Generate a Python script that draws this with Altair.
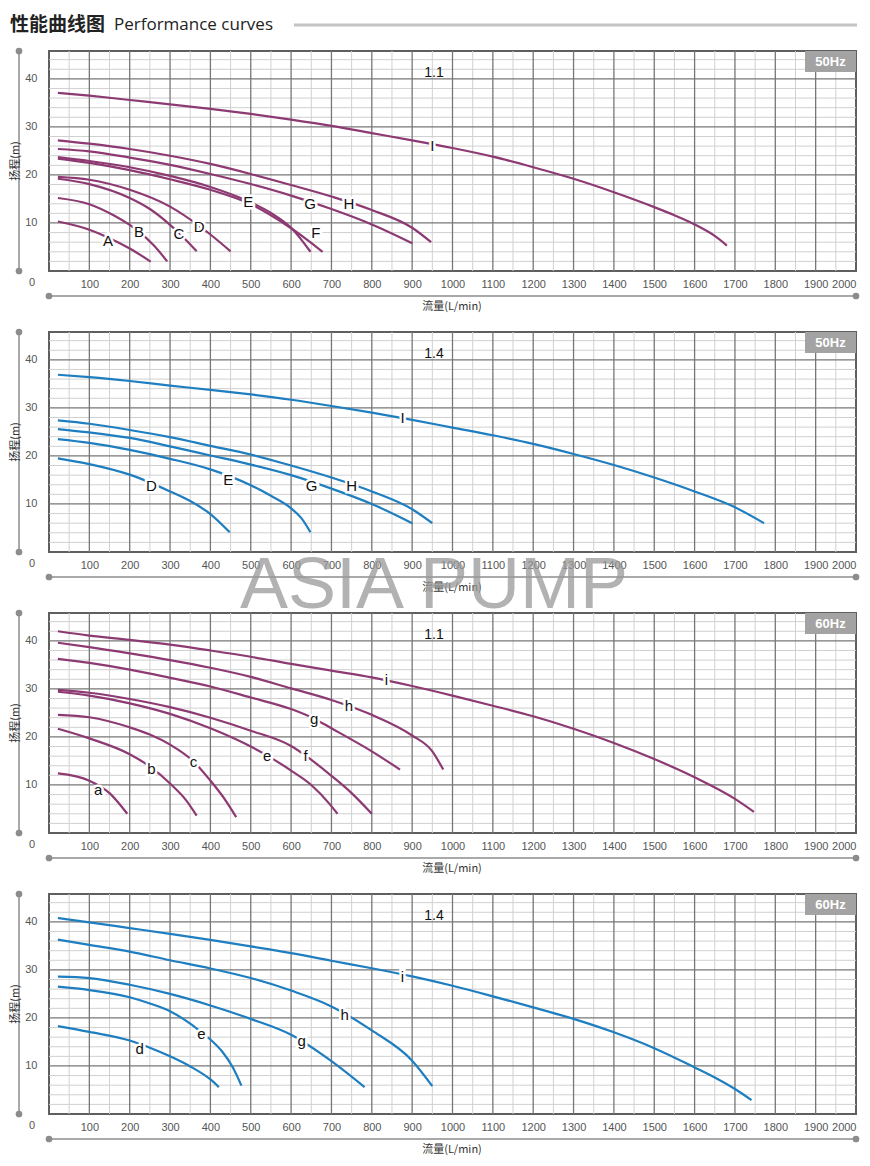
import altair as alt
import pandas as pd

# ---------------- axis values ----------------
X_TICKS = list(range(100, 2001, 100))
Y_TICKS = [10, 20, 30, 40]
X_MINOR = list(range(50, 2000, 100))
Y_MINOR = [v for v in range(2, 46, 2) if v % 10 != 0]
X_MAJOR = list(range(100, 2000, 100))
Y_MAJOR = [10, 20, 30, 40]

# ---------------- panel 1 : 50Hz, 1.1 ----------------
p1_A_q = [22, 100, 146, 200, 252]
p1_A_h = [10.3, 8.6, 7.0, 4.7, 1.95]
p1_B_q = [22, 100, 160, 200, 223, 260, 293]
p1_B_h = [15.2, 13.9, 11.6, 9.6, 8.2, 5.3, 2.0]
p1_C_q = [22, 100, 200, 250, 300, 322, 366]
p1_C_h = [19.2, 18.1, 15.2, 12.9, 9.6, 7.9, 4.1]
p1_D_q = [22, 100, 200, 300, 372, 400, 450]
p1_D_h = [19.6, 19.0, 16.9, 13.4, 9.4, 7.6, 4.1]
p1_E_q = [22, 100, 200, 300, 400, 500, 550, 600, 648]
p1_E_h = [23.7, 22.9, 21.6, 19.8, 17.5, 14.3, 12.1, 9.0, 4.0]
p1_F_q = [22, 100, 200, 300, 400, 500, 550, 600, 640, 678]
p1_F_h = [23.4, 22.5, 21.0, 19.1, 16.9, 13.9, 11.6, 8.9, 6.5, 4.0]
p1_G_q = [22, 100, 200, 300, 400, 500, 600, 700, 800, 900]
p1_G_h = [25.4, 24.9, 23.6, 22.1, 20.2, 18.1, 15.7, 12.9, 9.7, 5.8]
p1_H_q = [22, 100, 200, 300, 400, 500, 600, 700, 800, 900, 947]
p1_H_h = [27.2, 26.5, 25.4, 24.0, 22.3, 20.2, 17.9, 15.5, 12.7, 9.0, 6.0]
p1_I_q = [22, 100, 200, 300, 400, 500, 600, 700, 800, 900, 1000, 1100, 1200, 1300, 1400, 1500, 1550, 1600, 1650, 1680]
p1_I_h = [37.1, 36.5, 35.6, 34.7, 33.75, 32.7, 31.5, 30.2, 28.7, 27.2, 25.6, 23.8, 21.6, 19.2, 16.4, 13.3, 11.6, 9.7, 7.3, 5.3]
p1_lab_t = ["A", "B", "C", "D", "E", "F", "G", "H", "I"]
p1_lab_q = [146, 223, 322, 372, 494, 661, 647, 743, 950]
p1_lab_h = [6.3, 8.2, 7.6, 9.2, 14.4, 7.9, 14.0, 14.0, 26.1]

# ---------------- panel 2 : 50Hz, 1.4 ----------------
p2_D_q = [22, 100, 200, 300, 350, 400, 448]
p2_D_h = [19.5, 18.3, 16.1, 12.6, 10.6, 7.9, 4.1]
p2_E_q = [22, 100, 200, 300, 400, 500, 550, 600, 625, 648]
p2_E_h = [23.5, 22.7, 21.25, 19.4, 17.2, 13.9, 11.7, 9.1, 7.1, 4.1]
p2_G_q = [22, 100, 200, 300, 400, 500, 600, 700, 800, 900]
p2_G_h = [25.6, 24.9, 23.75, 22.0, 20.1, 18.2, 16.0, 13.2, 10.0, 6.0]
p2_H_q = [22, 100, 200, 300, 400, 500, 600, 700, 800, 900, 950]
p2_H_h = [27.4, 26.7, 25.4, 23.9, 22.1, 20.3, 18.0, 15.5, 12.6, 8.9, 6.0]
p2_I_q = [22, 100, 200, 300, 400, 500, 600, 700, 800, 900, 1000, 1100, 1200, 1300, 1400, 1500, 1600, 1700, 1772]
p2_I_h = [36.9, 36.4, 35.6, 34.65, 33.75, 32.8, 31.7, 30.4, 29.0, 27.5, 25.9, 24.3, 22.5, 20.4, 18.1, 15.5, 12.6, 9.3, 6.0]
p2_lab_t = ["D", "E", "G", "H", "I"]
p2_lab_q = [254, 444, 651, 750, 876]
p2_lab_h = [13.8, 14.9, 13.8, 13.8, 27.9]

# ---------------- panel 3 : 60Hz, 1.1 ----------------
p3_a_q = [22, 100, 150, 194]
p3_a_h = [12.4, 10.9, 8.3, 4.0]
p3_b_q = [22, 100, 200, 254, 300, 340, 366]
p3_b_h = [21.7, 19.7, 16.4, 13.6, 10.3, 6.8, 3.6]
p3_c_q = [22, 100, 200, 250, 300, 358, 400, 440, 464]
p3_c_h = [24.6, 24.1, 22.0, 20.5, 18.4, 14.9, 10.9, 6.5, 3.3]
p3_e_q = [22, 100, 200, 300, 400, 500, 541, 600, 650, 700, 715]
p3_e_h = [29.4, 28.6, 27.0, 24.8, 21.8, 18.0, 16.1, 13.0, 10.0, 5.6, 4.0]
p3_f_q = [22, 100, 200, 300, 400, 500, 600, 636, 700, 750, 800]
p3_f_h = [29.8, 29.2, 27.9, 26.2, 24.0, 21.3, 18.1, 16.1, 11.9, 8.3, 4.0]
p3_g_q = [22, 100, 200, 300, 400, 500, 600, 657, 700, 800, 870]
p3_g_h = [36.25, 35.4, 34.0, 32.3, 30.5, 28.2, 25.8, 23.8, 21.8, 17.0, 13.2]
p3_h_q = [22, 100, 200, 300, 400, 500, 600, 700, 800, 900, 950, 977]
p3_h_h = [39.6, 38.7, 37.4, 36.0, 34.4, 32.5, 30.1, 27.7, 24.6, 20.3, 17.0, 13.2]
p3_i_q = [22, 100, 200, 300, 400, 500, 600, 700, 800, 900, 1000, 1100, 1200, 1300, 1400, 1500, 1600, 1700, 1747]
p3_i_h = [42.0, 41.1, 40.2, 39.2, 38.0, 36.7, 35.2, 33.8, 32.4, 30.6, 28.6, 26.5, 24.3, 21.7, 18.75, 15.4, 11.6, 7.1, 4.4]
p3_lab_t = ["a", "b", "c", "e", "f", "g", "h", "i"]
p3_lab_q = [122, 254, 358, 541, 636, 657, 743, 836]
p3_lab_h = [9.0, 13.3, 14.7, 16.0, 16.1, 23.75, 26.5, 31.9]

# ---------------- panel 4 : 60Hz, 1.4 ----------------
p4_d_q = [22, 100, 200, 250, 300, 350, 400, 421]
p4_d_h = [18.3, 17.1, 15.3, 13.8, 12.0, 9.9, 7.2, 5.6]
p4_e_q = [22, 100, 200, 250, 300, 350, 378, 400, 430, 455, 477]
p4_e_h = [26.5, 25.8, 24.3, 23.0, 21.4, 18.8, 17.0, 15.5, 12.9, 9.8, 5.9]
p4_g_q = [22, 100, 200, 300, 400, 500, 600, 700, 782]
p4_g_h = [28.6, 28.3, 26.9, 25.0, 22.6, 19.8, 16.5, 11.0, 5.6]
p4_h_q = [22, 100, 200, 300, 400, 500, 600, 700, 800, 900, 950]
p4_h_h = [36.3, 35.2, 33.8, 32.0, 30.3, 28.3, 25.7, 22.4, 17.4, 11.1, 5.8]
p4_i_q = [22, 100, 200, 300, 400, 500, 600, 700, 800, 900, 1000, 1100, 1200, 1300, 1400, 1500, 1600, 1650, 1700, 1741]
p4_i_h = [40.8, 39.9, 38.7, 37.5, 36.25, 34.9, 33.5, 31.9, 30.35, 28.65, 26.7, 24.5, 22.2, 19.8, 17.0, 13.7, 9.7, 7.6, 5.2, 2.9]
p4_lab_t = ["d", "e", "g", "h", "i"]
p4_lab_q = [225, 378, 626, 733, 876]
p4_lab_h = [13.5, 16.7, 15.1, 20.7, 28.5]

PURPLE = "#8d3a73"
BLUE = "#1e7ec0"
W, H = 807, 220
XMAX, YMAX = 2000, 45.8
GREY = "#8c8c8c"
LABEL_FONT = "Liberation Sans"
CJK = "Noto Sans CJK SC"

AX = alt.Axis(values=X_TICKS, format="d", title=None, grid=False, ticks=False, tickSize=0, domain=False,
              labelPadding=7, labelFontSize=11, labelColor="#555555", labelFont=LABEL_FONT,
              labelFlush=1, labelOverlap=False)
AY = alt.Axis(values=Y_TICKS, format="d", title=None, grid=False, ticks=False, tickSize=0, domain=False,
              labelPadding=12, labelFontSize=11, labelColor="#555555", labelFont=LABEL_FONT)


def curves_df(curves):
    rows = []
    for name, (q, h) in curves.items():
        for i, (a, b) in enumerate(zip(q, h)):
            rows.append({"curve": name, "q": a, "h": b, "o": i})
    return pd.DataFrame(rows)


one = pd.DataFrame({"d": [0]})


def txt(text, x, y, **kw):
    return alt.Chart(one).mark_text(text=text, **kw).encode(x=alt.value(x), y=alt.value(y))


def panel(curves, lab_t, lab_q, lab_h, color, hz, ver, title=False, watermark=False):
    xs = alt.Scale(domain=[0, XMAX], nice=False, zero=False)
    ys = alt.Scale(domain=[0, YMAX], nice=False, zero=False)
    minor_x = alt.Chart(pd.DataFrame({"q": X_MINOR})).mark_rule(color="#d0d0d0", strokeWidth=1).encode(
        x=alt.X("q:Q", scale=xs, axis=AX))
    minor_y = alt.Chart(pd.DataFrame({"h": Y_MINOR})).mark_rule(color="#d0d0d0", strokeWidth=1).encode(
        y=alt.Y("h:Q", scale=ys, axis=AY))
    major_x = alt.Chart(pd.DataFrame({"q": X_MAJOR})).mark_rule(color="#777777", strokeWidth=1.3).encode(
        x=alt.X("q:Q", scale=xs, axis=AX))
    major_y = alt.Chart(pd.DataFrame({"h": Y_MAJOR})).mark_rule(color="#777777", strokeWidth=1.3).encode(
        y=alt.Y("h:Q", scale=ys, axis=AY))
    lines = alt.Chart(curves_df(curves)).mark_line(
        color=color, strokeWidth=2.2, interpolate="monotone").encode(
        x=alt.X("q:Q", scale=xs, axis=AX),
        y=alt.Y("h:Q", scale=ys, axis=AY),
        detail="curve:N", order="o:Q")
    labdf = pd.DataFrame({"t": lab_t, "q": lab_q, "h": lab_h})
    halo = alt.Chart(labdf).mark_text(
        fontSize=15, font=LABEL_FONT, stroke="white", strokeWidth=5, fill="white", baseline="middle").encode(
        x=alt.X("q:Q", scale=xs, axis=AX), y=alt.Y("h:Q", scale=ys, axis=AY), text="t:N")
    labs = alt.Chart(labdf).mark_text(
        fontSize=15, font=LABEL_FONT, color="#111111", baseline="middle").encode(
        x=alt.X("q:Q", scale=xs, axis=AX), y=alt.Y("h:Q", scale=ys, axis=AY), text="t:N")
    verdf = pd.DataFrame({"t": [ver], "q": [954], "h": [41.3]})
    vtxt = alt.Chart(verdf).mark_text(fontSize=14, font=LABEL_FONT, color="#111111", baseline="middle").encode(
        x=alt.X("q:Q", scale=xs, axis=AX), y=alt.Y("h:Q", scale=ys, axis=AY), text="t:N")
    hzbox = alt.Chart(one).mark_rect(color="#a3a3a3").encode(
        x=alt.value(W - 51), x2=alt.value(W), y=alt.value(0), y2=alt.value(21))
    hztxt = txt(hz, W - 25.5, 11, fontSize=13, fontWeight="bold", color="white", font=LABEL_FONT,
                baseline="middle", align="center")
    vline = alt.Chart(one).mark_rule(color=GREY, strokeWidth=1.5).encode(
        x=alt.value(-30), y=alt.value(0), y2=alt.value(H))
    hline = alt.Chart(one).mark_rule(color=GREY, strokeWidth=1.5).encode(
        x=alt.value(0), x2=alt.value(W), y=alt.value(245))
    dots = [alt.Chart(one).mark_circle(color=GREY, size=45, opacity=1).encode(x=alt.value(a), y=alt.value(b))
            for a, b in [(-30, 0), (-30, H), (0, 245), (W, 245)]]
    zero = txt("0", -17, 232, fontSize=11, color="#555555", font=LABEL_FONT, baseline="middle", align="center")
    xtitle = txt("流量(L/min)", 403, 256, fontSize=11, color="#333333", font=CJK, baseline="middle", align="center")
    ytitle = txt("扬程(m)", -33.5, 110, fontSize=11, color="#333333", font=CJK, baseline="middle",
                 align="center", angle=270)
    layers = [minor_x, minor_y, major_x, major_y, lines, halo, labs, vtxt, hzbox, hztxt,
              vline, hline] + dots + [zero, xtitle, ytitle]
    if title:
        layers += [
            txt("性能曲线图", -39, -26, fontSize=19, fontWeight="bold", font=CJK, color="#222222",
                baseline="middle", align="left"),
            txt("Performance curves", 65, -26, fontSize=17, font="Open Sans", color="#222222",
                baseline="middle", align="left"),
            alt.Chart(one).mark_rule(color="#c4c4c4", strokeWidth=3).encode(
                x=alt.value(245), x2=alt.value(808), y=alt.value(-26)),
        ]
    if watermark:
        layers += [txt("ASIA PUMP", 385, 276, fontSize=72, font=LABEL_FONT, color="#999999",
                       opacity=0.75, baseline="alphabetic", align="center")]
    return alt.layer(*layers).properties(width=W, height=H)


p1 = panel({"A": (p1_A_q, p1_A_h), "B": (p1_B_q, p1_B_h), "C": (p1_C_q, p1_C_h), "D": (p1_D_q, p1_D_h),
            "E": (p1_E_q, p1_E_h), "F": (p1_F_q, p1_F_h), "G": (p1_G_q, p1_G_h), "H": (p1_H_q, p1_H_h),
            "I": (p1_I_q, p1_I_h)}, p1_lab_t, p1_lab_q, p1_lab_h, PURPLE, "50Hz", "1.1", title=True)
p2 = panel({"D": (p2_D_q, p2_D_h), "E": (p2_E_q, p2_E_h), "G": (p2_G_q, p2_G_h), "H": (p2_H_q, p2_H_h),
            "I": (p2_I_q, p2_I_h)}, p2_lab_t, p2_lab_q, p2_lab_h, BLUE, "50Hz", "1.4", watermark=True)
p3 = panel({"a": (p3_a_q, p3_a_h), "b": (p3_b_q, p3_b_h), "c": (p3_c_q, p3_c_h), "e": (p3_e_q, p3_e_h),
            "f": (p3_f_q, p3_f_h), "g": (p3_g_q, p3_g_h), "h": (p3_h_q, p3_h_h), "i": (p3_i_q, p3_i_h)},
           p3_lab_t, p3_lab_q, p3_lab_h, PURPLE, "60Hz", "1.1")
p4 = panel({"d": (p4_d_q, p4_d_h), "e": (p4_e_q, p4_e_h), "g": (p4_g_q, p4_g_h), "h": (p4_h_q, p4_h_h),
            "i": (p4_i_q, p4_i_h)}, p4_lab_t, p4_lab_q, p4_lab_h, BLUE, "60Hz", "1.4")

chart = alt.vconcat(p1, p2, p3, p4, spacing=61, bounds="flush").properties(
    padding={"left": 0, "top": 7, "right": 0, "bottom": 0}
).configure_view(stroke="#5f5f5f", strokeWidth=2)

chart.save("out.html", embed_options={"renderer": "svg", "actions": False})
